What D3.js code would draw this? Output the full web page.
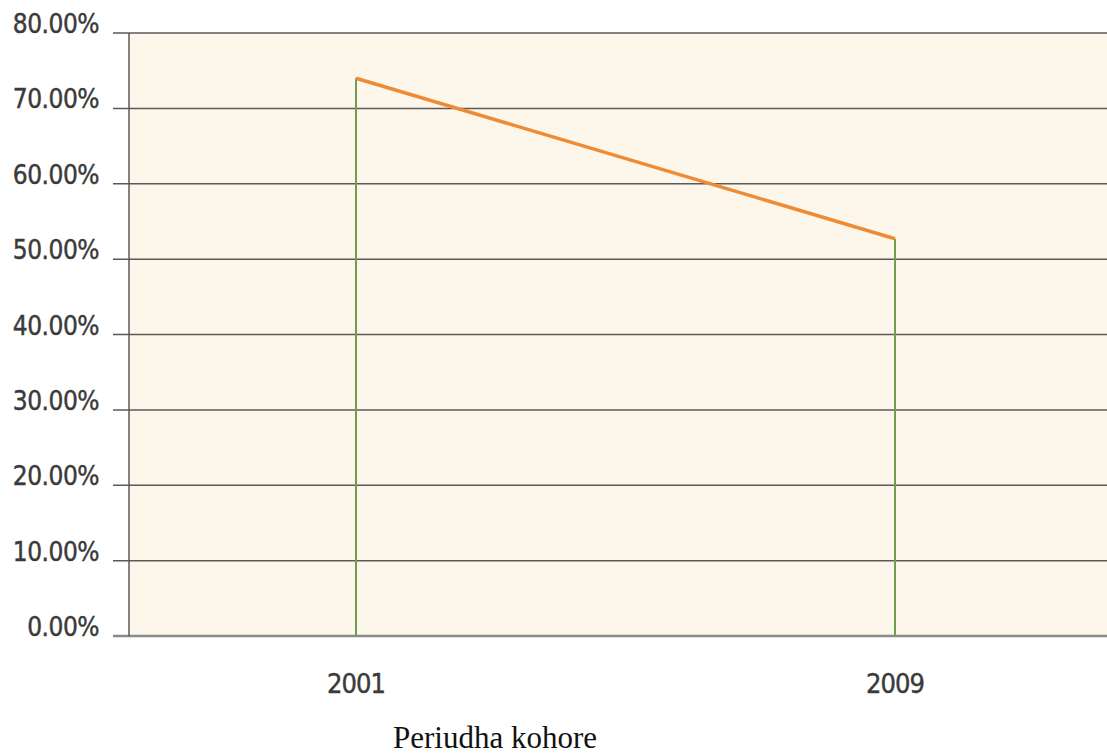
<!DOCTYPE html>
<html><head><meta charset="utf-8">
<script src="https://cdn.jsdelivr.net/npm/d3@7"></script>
<style>html,body{margin:0;padding:0;background:#fff;}svg{display:block;}</style>
</head><body>
<svg id="c" width="1107" height="754"></svg>
<script>
const categories = ["2001", "2009"];
const values = [74.0, 52.7];
const yTicks = [0, 10, 20, 30, 40, 50, 60, 70, 80];
const xTitle = "Periudha kohore";

const svg = d3.select("#c");
const pL = 129, pR = 1107, pT = 33, pB = 636;
const labelFont = "'DejaVu Sans Condensed', 'DejaVu Sans', sans-serif";

const y = d3.scaleLinear().domain([0, 80]).range([pB, pT]);
const x = d3.scalePoint().domain(categories).range([356, 895]);

svg.append("rect").attr("x", pL).attr("y", pT).attr("width", pR - pL).attr("height", pB - pT).attr("fill", "#fcf7ea");

// grid
svg.append("g").selectAll("line").data(yTicks).join("line")
  .attr("x1", 113).attr("x2", pR)
  .attr("y1", d => y(d)).attr("y2", d => y(d))
  .attr("stroke", d => d === 0 ? "#8a8a8a" : "#5a5a5a")
  .attr("stroke-width", d => d === 0 ? 2.5 : 1.5);

// y axis line
svg.append("line").attr("x1", pL).attr("x2", pL).attr("y1", pT).attr("y2", pB)
  .attr("stroke", "#5a5a5a").attr("stroke-width", 1.5);

// y labels
svg.append("g").selectAll("text").data(yTicks).join("text")
  .attr("x", 99).attr("y", d => y(d))
  .attr("text-anchor", "end")
  .attr("font-family", labelFont)
  .attr("font-size", 26).attr("letter-spacing", -0.5).attr("fill", "#3a3a3a")
  .attr("stroke", "#3a3a3a").attr("stroke-width", 0.4)
  .text(d => d.toFixed(2) + "%");

// drop lines
svg.append("g").selectAll("line").data(categories).join("line")
  .attr("x1", d => x(d)).attr("x2", d => x(d))
  .attr("y1", (d, i) => y(values[i])).attr("y2", pB)
  .attr("stroke", "#6e9e50").attr("stroke-width", 2);

// series line
const line = d3.line().x((d, i) => x(categories[i])).y(d => y(d));
svg.append("path").datum(values).attr("d", line)
  .attr("fill", "none").attr("stroke", "#ef8a35").attr("stroke-width", 3.5);

// x labels
svg.append("g").selectAll("text").data(categories).join("text")
  .attr("x", d => x(d)).attr("y", 693)
  .attr("text-anchor", "middle")
  .attr("font-family", labelFont)
  .attr("font-size", 27).attr("letter-spacing", -1).attr("fill", "#3a3a3a")
  .attr("stroke", "#3a3a3a").attr("stroke-width", 0.4)
  .text(d => d);

svg.append("text").attr("x", 393).attr("y", 748).attr("text-anchor", "start")
  .attr("font-family", "'Liberation Serif', 'Times New Roman', serif")
  .attr("font-size", 31).attr("fill", "#111").text(xTitle);
</script>
</body></html>
